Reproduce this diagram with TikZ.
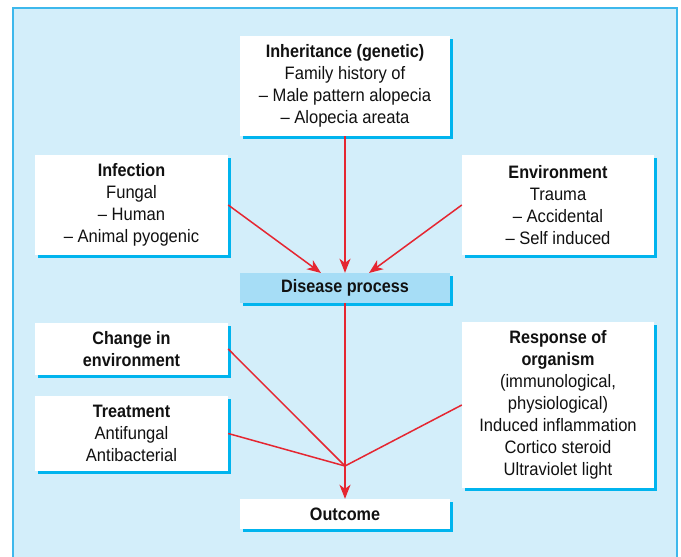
\documentclass[tikz,border=0pt]{standalone}
\usepackage{fontspec}
\setmainfont{Liberation Sans}[FakeStretch=0.92,BoldFeatures={FakeStretch=0.9}]
\usetikzlibrary{arrows.meta,shadows}
\definecolor{panelfill}{HTML}{D3EEFA}
\definecolor{panelline}{HTML}{3DB8EC}
\definecolor{shadowc}{HTML}{00B4EE}
\definecolor{disfill}{HTML}{A6DDF6}
\definecolor{linkred}{HTML}{E52631}
\definecolor{txt}{HTML}{111111}
\tikzset{
  box/.style={rectangle, fill=white, inner sep=0pt, align=center, text=txt,
    font=\fontsize{18}{22}\selectfont,
    general shadow={fill=shadowc, shadow xshift=3pt, shadow yshift=-3pt}},
  link/.style={draw=linkred, line width=1.5pt},
  arrowlink/.style={link, -{Stealth[length=14pt,width=11pt,inset=4pt]}}
}
\begin{document}
\begin{tikzpicture}[x=1pt,y=-1pt]
\useasboundingbox (0,0) rectangle (681,557);
\fill[panelfill] (12,7) rectangle (678,557);
\draw[panelline, line width=1.6pt] (12.8,557) -- (12.8,7.8) -- (677.2,7.8) -- (677.2,557);

\node[box, minimum width=210pt, minimum height=100pt] (inh) at (345,86)
  {\textbf{Inheritance (genetic)}\\Family history of\\– Male pattern alopecia\\– Alopecia areata};
\node[box, minimum width=193pt, minimum height=100pt] (inf) at (131.5,205)
  {\textbf{Infection}\\Fungal\\– Human\\– Animal pyogenic};
\node[box, minimum width=192pt, minimum height=100pt] (env) at (558,205)
  {\textbf{Environment}\\Trauma\\– Accidental\\– Self induced};
\node[box, fill=disfill, minimum width=210pt, minimum height=30pt] (dis) at (345,288)
  {\textbf{Disease process}};
\node[box, minimum width=193pt, minimum height=52pt] (chg) at (131.5,349)
  {\textbf{Change in}\\\textbf{environment}};
\node[box, minimum width=193pt, minimum height=75pt] (trt) at (131.5,433.5)
  {\textbf{Treatment}\\Antifungal\\Antibacterial};
\node[box, minimum width=192pt, minimum height=166pt] (rsp) at (558,405)
  {\textbf{Response of}\\\textbf{organism}\\(immunological,\\physiological)\\Induced inflammation\\Cortico steroid\\Ultraviolet light};
\node[box, minimum width=210pt, minimum height=30pt] (out) at (345,514)
  {\textbf{Outcome}};

\coordinate (dl) at (321,273);
\coordinate (dr) at (369,273);
\coordinate (j) at (345,466);

\draw[arrowlink] (inh.south) -- (dis.north);
\draw[arrowlink] (inf.east) -- (dl);
\draw[arrowlink] (env.west) -- (dr);
\draw[link] (dis.south) -- (j);
\draw[link] (chg.east) -- (j);
\draw[link] (trt.east) -- (j);
\draw[link] (rsp.west) -- (j);
\draw[arrowlink] (j) -- (out.north);
\end{tikzpicture}
\end{document}
